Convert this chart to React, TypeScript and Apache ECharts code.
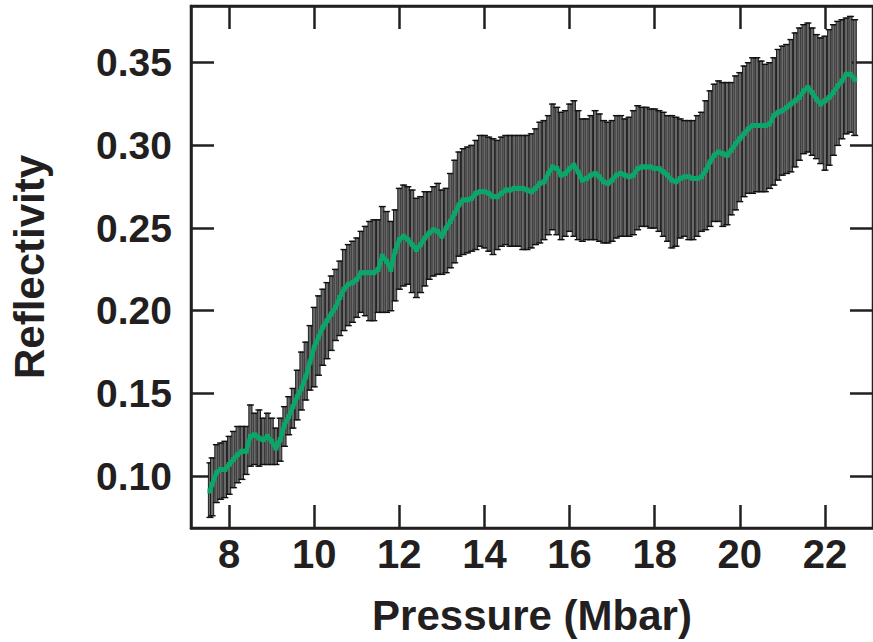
import React, { useEffect, useRef } from "react";
import * as echarts from "echarts";

const pressure = [
  7.55, 7.6, 7.7, 7.8, 7.9, 8.0, 8.1, 8.2, 8.3, 8.4,
  8.5, 8.6, 8.7, 8.8, 8.9, 9.0, 9.1, 9.2, 9.3, 9.4,
  9.5, 9.6, 9.7, 9.8, 9.9, 10.0, 10.1, 10.2, 10.3, 10.4,
  10.5, 10.6, 10.7, 10.8, 10.9, 11.0, 11.1, 11.2, 11.3, 11.4,
  11.5, 11.6, 11.7, 11.8, 11.9, 12.0, 12.1, 12.2, 12.3, 12.4,
  12.5, 12.6, 12.7, 12.8, 12.9, 13.0, 13.1, 13.2, 13.3, 13.4,
  13.5, 13.6, 13.7, 13.8, 13.9, 14.0, 14.1, 14.2, 14.3, 14.4,
  14.5, 14.6, 14.7, 14.8, 14.9, 15.0, 15.1, 15.2, 15.3, 15.4,
  15.5, 15.6, 15.7, 15.8, 15.9, 16.0, 16.1, 16.2, 16.3, 16.4,
  16.5, 16.6, 16.7, 16.8, 16.9, 17.0, 17.1, 17.2, 17.3, 17.4,
  17.5, 17.6, 17.7, 17.8, 17.9, 18.0, 18.1, 18.2, 18.3, 18.4,
  18.5, 18.6, 18.7, 18.8, 18.9, 19.0, 19.1, 19.2, 19.3, 19.4,
  19.5, 19.6, 19.7, 19.8, 19.9, 20.0, 20.1, 20.2, 20.3, 20.4,
  20.5, 20.6, 20.7, 20.8, 20.9, 21.0, 21.1, 21.2, 21.3, 21.4,
  21.5, 21.6, 21.7, 21.8, 21.9, 22.0, 22.1, 22.2, 22.3, 22.4,
  22.5, 22.6, 22.7,
];

const reflectivity = [
  0.091, 0.095, 0.102, 0.104, 0.104, 0.107, 0.110, 0.113, 0.115, 0.115,
  0.124, 0.125, 0.123, 0.122, 0.124, 0.121, 0.117, 0.122, 0.131, 0.136,
  0.142, 0.148, 0.153, 0.160, 0.169, 0.178, 0.184, 0.190, 0.194, 0.198,
  0.202, 0.208, 0.213, 0.216, 0.217, 0.219, 0.223, 0.223, 0.223, 0.223,
  0.225, 0.233, 0.230, 0.225, 0.236, 0.243, 0.245, 0.243, 0.240, 0.237,
  0.240, 0.244, 0.247, 0.249, 0.248, 0.245, 0.250, 0.254, 0.259, 0.264,
  0.267, 0.267, 0.268, 0.271, 0.272, 0.272, 0.271, 0.269, 0.269, 0.271,
  0.273, 0.273, 0.274, 0.274, 0.274, 0.273, 0.272, 0.274, 0.277, 0.278,
  0.283, 0.287, 0.286, 0.282, 0.283, 0.286, 0.288, 0.284, 0.279, 0.280,
  0.282, 0.283, 0.281, 0.278, 0.277, 0.279, 0.282, 0.283, 0.282, 0.281,
  0.282, 0.286, 0.287, 0.287, 0.287, 0.286, 0.286, 0.284, 0.282, 0.279,
  0.278, 0.280, 0.281, 0.281, 0.280, 0.280, 0.281, 0.285, 0.290, 0.294,
  0.296, 0.295, 0.294, 0.297, 0.301, 0.304, 0.307, 0.310, 0.312, 0.312,
  0.312, 0.312, 0.313, 0.318, 0.320, 0.321, 0.323, 0.325, 0.327, 0.329,
  0.333, 0.335, 0.332, 0.328, 0.325, 0.327, 0.329, 0.332, 0.336, 0.339,
  0.343, 0.343, 0.340,
];

const upperBound = [
  0.108, 0.111, 0.119, 0.120, 0.121, 0.124, 0.127, 0.130, 0.130, 0.130,
  0.143, 0.138, 0.140, 0.135, 0.138, 0.135, 0.129, 0.135, 0.142, 0.148,
  0.153, 0.164, 0.175, 0.181, 0.191, 0.202, 0.209, 0.213, 0.217, 0.221,
  0.225, 0.230, 0.237, 0.240, 0.242, 0.244, 0.248, 0.251, 0.254, 0.255,
  0.255, 0.263, 0.260, 0.254, 0.261, 0.274, 0.276, 0.275, 0.273, 0.268,
  0.269, 0.272, 0.272, 0.275, 0.277, 0.273, 0.274, 0.283, 0.291, 0.296,
  0.298, 0.299, 0.300, 0.303, 0.306, 0.306, 0.305, 0.304, 0.303, 0.305,
  0.306, 0.306, 0.306, 0.306, 0.306, 0.306, 0.307, 0.310, 0.314, 0.315,
  0.318, 0.325, 0.323, 0.320, 0.321, 0.325, 0.327, 0.321, 0.316, 0.316,
  0.318, 0.321, 0.319, 0.315, 0.314, 0.315, 0.318, 0.318, 0.316, 0.317,
  0.321, 0.324, 0.323, 0.323, 0.322, 0.322, 0.321, 0.320, 0.318, 0.318,
  0.317, 0.316, 0.315, 0.315, 0.315, 0.318, 0.320, 0.327, 0.333, 0.337,
  0.339, 0.338, 0.338, 0.338, 0.342, 0.344, 0.348, 0.350, 0.353, 0.353,
  0.351, 0.349, 0.350, 0.353, 0.358, 0.360, 0.361, 0.364, 0.368, 0.371,
  0.373, 0.374, 0.371, 0.367, 0.365, 0.366, 0.370, 0.373, 0.375, 0.376,
  0.377, 0.378, 0.376,
];

const lowerBound = [
  0.075, 0.076, 0.084, 0.086, 0.087, 0.089, 0.093, 0.096, 0.098, 0.101,
  0.106, 0.107, 0.106, 0.107, 0.107, 0.107, 0.107, 0.109, 0.118, 0.125,
  0.129, 0.134, 0.140, 0.146, 0.152, 0.154, 0.161, 0.167, 0.171, 0.176,
  0.182, 0.185, 0.188, 0.191, 0.193, 0.196, 0.199, 0.197, 0.194, 0.194,
  0.199, 0.199, 0.199, 0.200, 0.206, 0.213, 0.215, 0.216, 0.211, 0.208,
  0.211, 0.215, 0.219, 0.221, 0.222, 0.222, 0.223, 0.226, 0.229, 0.233,
  0.234, 0.235, 0.236, 0.237, 0.239, 0.238, 0.236, 0.234, 0.237, 0.239,
  0.240, 0.239, 0.239, 0.239, 0.237, 0.237, 0.238, 0.240, 0.241, 0.243,
  0.246, 0.249, 0.246, 0.243, 0.245, 0.248, 0.245, 0.243, 0.242, 0.243,
  0.243, 0.243, 0.242, 0.241, 0.241, 0.242, 0.244, 0.245, 0.245, 0.245,
  0.246, 0.249, 0.251, 0.251, 0.250, 0.250, 0.248, 0.245, 0.242, 0.238,
  0.239, 0.244, 0.245, 0.243, 0.243, 0.245, 0.248, 0.249, 0.251, 0.254,
  0.254, 0.251, 0.252, 0.258, 0.261, 0.266, 0.269, 0.271, 0.271, 0.272,
  0.272, 0.272, 0.274, 0.276, 0.279, 0.282, 0.283, 0.284, 0.287, 0.291,
  0.295, 0.296, 0.294, 0.292, 0.289, 0.285, 0.288, 0.294, 0.300, 0.304,
  0.307, 0.308, 0.306,
];

const xTicks = [8, 10, 12, 14, 16, 18, 20, 22];
const yTicks = [0.1, 0.15, 0.2, 0.25, 0.3, 0.35];

const FONT = "'Liberation Sans', Arial, Helvetica, sans-serif";
const INK = "#231f20";
const GREEN = "#0aa66a";

export default function App() {
  const ref = useRef<HTMLDivElement>(null);

  useEffect(() => {
    if (!ref.current) return;
    const chart = echarts.init(ref.current, undefined, { renderer: "svg" });

    const errData = pressure.map((p, i) => [p, lowerBound[i], upperBound[i]]);
    const meanData = pressure.map((p, i) => [p, reflectivity[i]]);

    const xMin = 7.104;
    const xMax = 23.13;
    const yMin = 0.0686;
    const yMax = 0.3843;

    const tickStyle = { color: INK, width: 2.5 };

    chart.setOption({
      animation: false,
      backgroundColor: "#ffffff",
      grid: {
        left: 190,
        top: 6,
        width: 685,
        height: 522,
        containLabel: false,
        show: true,
        borderColor: INK,
        borderWidth: 2.5,
        backgroundColor: "transparent",
      },
      xAxis: [
        {
          type: "value",
          min: xMin,
          max: xMax,
          position: "bottom",
          splitLine: { show: false },
          axisLine: { show: true, onZero: false, lineStyle: tickStyle },
          axisTick: { show: true, inside: true, length: 23, customValues: xTicks, lineStyle: tickStyle },
          axisLabel: {
            show: true,
            customValues: xTicks,
            fontFamily: FONT,
            fontWeight: "bold",
            fontSize: 40,
            color: INK,
            margin: 6,
            formatter: (v: number) => String(v),
          },
          name: "Pressure (Mbar)",
          nameLocation: "middle",
          nameGap: 66,
          nameTextStyle: { fontFamily: FONT, fontWeight: "bold", fontSize: 42, color: INK },
        },
        {
          type: "value",
          min: xMin,
          max: xMax,
          position: "top",
          splitLine: { show: false },
          axisLine: { show: true, onZero: false, lineStyle: tickStyle },
          axisTick: { show: true, inside: true, length: 23, customValues: xTicks, lineStyle: tickStyle },
          axisLabel: { show: false },
        },
      ],
      yAxis: [
        {
          type: "value",
          min: yMin,
          max: yMax,
          position: "left",
          splitLine: { show: false },
          axisLine: { show: true, onZero: false, lineStyle: tickStyle },
          axisTick: { show: true, inside: true, length: 23, customValues: yTicks, lineStyle: tickStyle },
          axisLabel: {
            show: true,
            customValues: yTicks,
            fontFamily: FONT,
            fontWeight: "bold",
            fontSize: 39,
            color: INK,
            margin: 19,
            formatter: (v: number) => v.toFixed(2),
          },
          name: "Reflectivity",
          nameLocation: "middle",
          nameRotate: 90,
          nameGap: 141,
          nameTextStyle: { fontFamily: FONT, fontWeight: "bold", fontSize: 42, color: INK },
        },
        {
          type: "value",
          min: yMin,
          max: yMax,
          position: "right",
          splitLine: { show: false },
          axisLine: { show: false },
          axisTick: { show: true, inside: true, length: 23, customValues: yTicks, lineStyle: tickStyle },
          axisLabel: { show: false },
        },
      ],
      series: [
        {
          type: "custom",
          xAxisIndex: 0,
          yAxisIndex: 0,
          data: errData,
          encode: { x: 0, y: [1, 2] },
          renderItem: (params: any, api: any) => {
            const x = api.value(0);
            const lo = api.coord([x, api.value(1)]);
            const hi = api.coord([x, api.value(2)]);
            const cap = 3.5;
            const st = { stroke: "#111111", lineWidth: 1.4 };
            return {
              type: "group",
              children: [
                {
                  type: "rect",
                  shape: { x: lo[0] - 1.6, y: hi[1], width: 3.2, height: lo[1] - hi[1] },
                  style: { fill: "#6a6a6a", stroke: "#111111", lineWidth: 0.9 },
                },
                { type: "line", shape: { x1: lo[0] - cap, y1: lo[1], x2: lo[0] + cap, y2: lo[1] }, style: st },
                { type: "line", shape: { x1: hi[0] - cap, y1: hi[1], x2: hi[0] + cap, y2: hi[1] }, style: st },
              ],
            };
          },
          z: 2,
        },
        {
          type: "line",
          xAxisIndex: 0,
          yAxisIndex: 0,
          data: meanData,
          symbol: "rect",
          symbolSize: 5,
          showSymbol: true,
          itemStyle: { color: GREEN },
          lineStyle: { color: GREEN, width: 4.5 },
          z: 3,
        },
      ],
    });

    return () => chart.dispose();
  }, []);

  return (
    <div
      ref={ref}
      style={{ position: "absolute", left: 0, top: 0, width: 873, height: 642 }}
    />
  );
}
